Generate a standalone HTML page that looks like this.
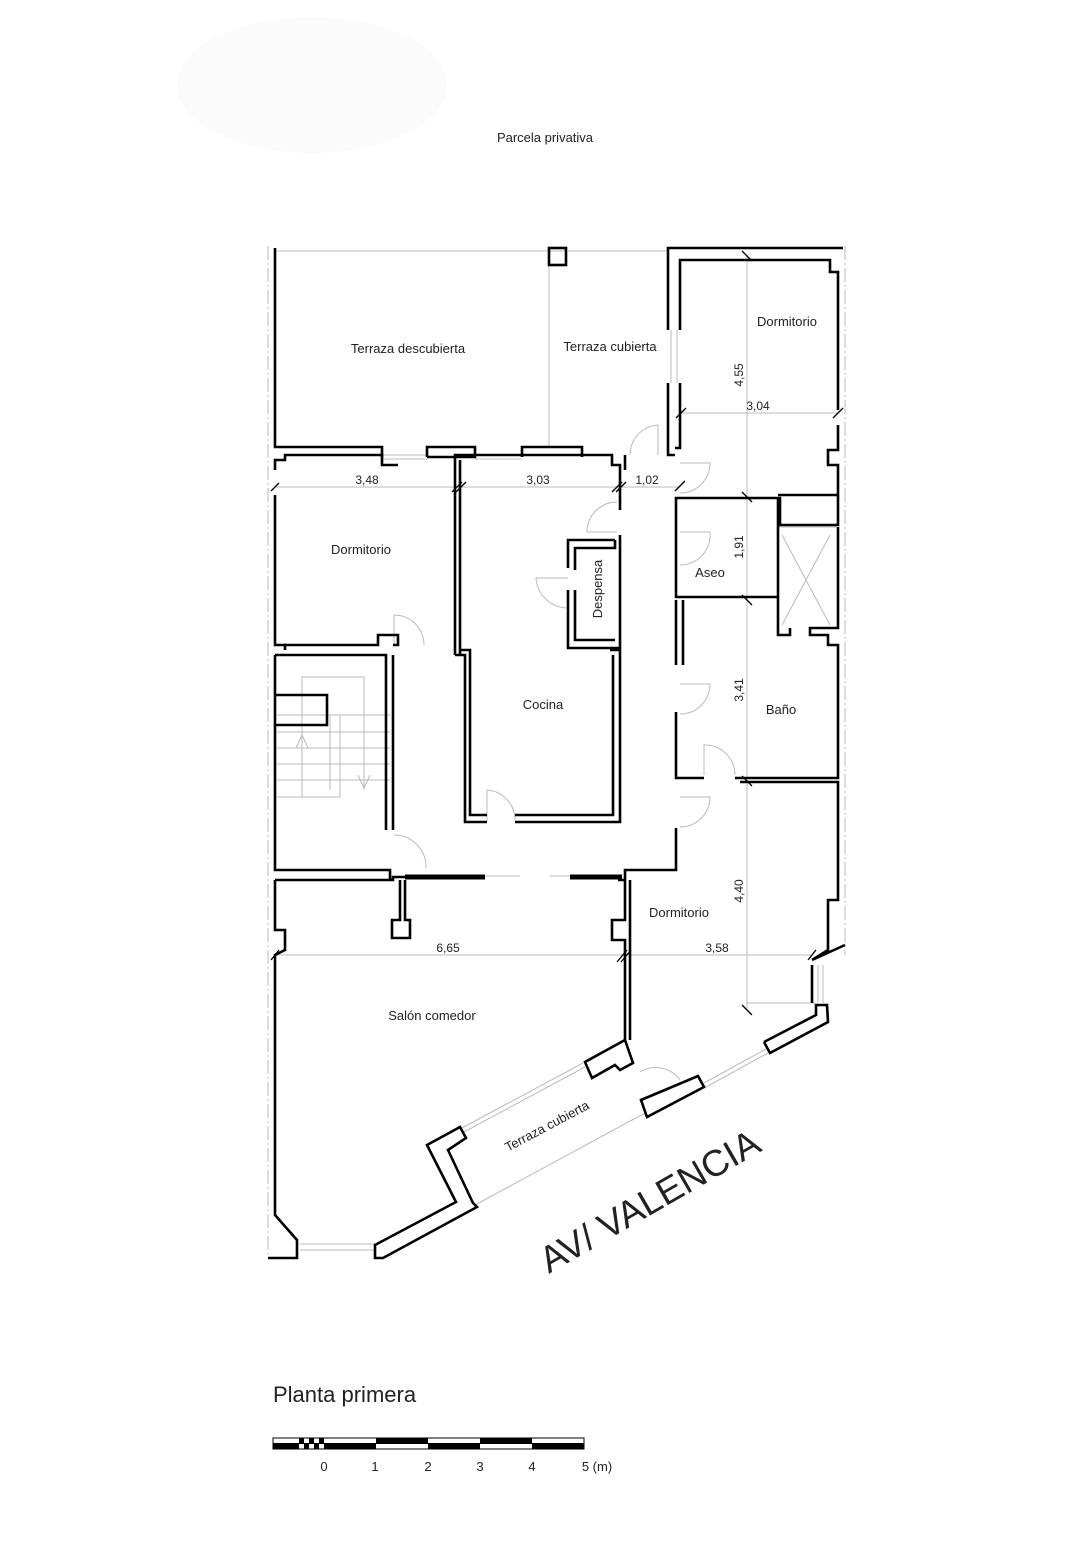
<!DOCTYPE html>
<html><head><meta charset="utf-8"><style>
html,body{margin:0;padding:0;background:#fff;}
svg{display:block;}
text{font-family:"Liberation Sans",Arial,sans-serif;fill:#222;}
</style></head><body>
<svg width="1092" height="1545" viewBox="0 0 1092 1545" xmlns="http://www.w3.org/2000/svg">
<rect width="1092" height="1545" fill="#fff"/>
<ellipse cx="312" cy="85" rx="135" ry="68" fill="#fbfbfb"/>
<text x="545" y="142" font-size="13" text-anchor="middle">Parcela privativa</text>

<g stroke="#bbb" stroke-width="1" fill="none">
<line x1="268" y1="246" x2="268" y2="1258" stroke-dasharray="14,3,2,3"/>
<line x1="845" y1="246" x2="845" y2="955" stroke-dasharray="14,3,2,3"/>
<line x1="275" y1="251" x2="668" y2="251"/>
<line x1="549" y1="265" x2="549" y2="447"/>
<line x1="275" y1="487" x2="680" y2="487"/>
<line x1="680" y1="413" x2="838" y2="413"/>
<line x1="747" y1="255" x2="747" y2="1010"/>
<line x1="275" y1="955" x2="812" y2="955"/>
<line x1="747" y1="1003" x2="815" y2="1003"/>
<line x1="778" y1="527" x2="838" y2="527"/>
<line x1="782" y1="535" x2="830" y2="625"/><line x1="830" y1="535" x2="782" y2="625"/>
<line x1="382" y1="455" x2="427" y2="455"/><line x1="382" y1="459" x2="427" y2="459"/>
<line x1="475" y1="455" x2="522" y2="455"/><line x1="475" y1="459" x2="522" y2="459"/>
<line x1="671" y1="330" x2="671" y2="383"/><line x1="677" y1="330" x2="677" y2="383"/>
<line x1="300" y1="1244" x2="375" y2="1244"/><line x1="300" y1="1250" x2="375" y2="1250"/>
<line x1="818" y1="965" x2="818" y2="1003"/><line x1="823" y1="965" x2="823" y2="1003"/>
<line x1="462" y1="1128" x2="583" y2="1063"/><line x1="464" y1="1132" x2="585" y2="1067"/>
<line x1="704" y1="1083" x2="766" y2="1049"/><line x1="706" y1="1087" x2="768" y2="1053"/>
<line x1="475" y1="1205" x2="645" y2="1113"/>
<line x1="383" y1="1258" x2="477" y2="1207"/>
<polyline points="302,797 302,677 364,677 364,790"/>
<line x1="277" y1="715" x2="390" y2="715"/><line x1="277" y1="732" x2="390" y2="732"/>
<line x1="277" y1="748" x2="390" y2="748"/><line x1="277" y1="764" x2="390" y2="764"/>
<line x1="277" y1="780" x2="390" y2="780"/><line x1="277" y1="797" x2="340" y2="797"/>
<line x1="340" y1="715" x2="340" y2="797"/><line x1="330" y1="715" x2="330" y2="790"/>
<polyline points="296,748 302,735 308,748"/>
<polyline points="358,775 364,788 370,775"/>
<path d="M394,645 L394,615 A30,30 0 0 1 424,645"/>
<path d="M394,835 A32,32 0 0 1 426,868"/>
<path d="M617,532 L587,532 A30,30 0 0 1 617,502"/>
<path d="M568,578 L536,578 A32,32 0 0 0 568,608"/>
<path d="M487,790 L487,822 M487,790 A30,30 0 0 1 515,820"/>
<path d="M658,455 L658,425 A30,30 0 0 0 630,455"/>
<path d="M680,463 L710,463 A30,30 0 0 1 680,493"/>
<path d="M680,532 L710,532 A30,30 0 0 1 680,565"/>
<path d="M680,684 L710,684 A30,30 0 0 1 680,714"/>
<path d="M704,775 L704,745 A30,30 0 0 1 735,775"/>
<path d="M680,797 L710,797 A30,30 0 0 1 680,827"/>
<path d="M640,1072 A30,30 0 0 1 680,1080"/>
<line x1="436" y1="876" x2="520" y2="876"/><line x1="550" y1="876" x2="620" y2="876"/>
</g>

<g stroke="#000" stroke-width="2.6" fill="none" stroke-linejoin="miter">
<polyline points="275,248 275,447 382,447 382,457"/>
<polyline points="427,457 427,447 475,447 475,457 427,457"/>
<polyline points="522,457 522,447 582,447 582,457"/>
<rect x="549" y="248" width="17" height="17"/>
<polyline points="668,330 668,248 843,248"/>
<polyline points="680,330 680,260 830,260 830,272 838,272 838,410"/>
<polyline points="668,383 668,455 675,455"/>
<polyline points="680,383 680,448 675,448"/>
<polyline points="838,425 838,450 828,450 828,465 838,465 838,525 780,525 780,498 676,498 676,590"/>
<line x1="778" y1="495" x2="838" y2="495"/>
<polyline points="275,470 275,460 285,460 285,455 382,455 382,465 398,465"/>
<polyline points="455,655 455,455 612,455 612,465 620,465 620,510"/>
<polyline points="460,655 460,460"/>
<polyline points="625,455 625,470"/>
<polyline points="275,495 275,645 285,645 285,650"/>
<polyline points="285,645 378,645 378,635 398,635 398,645 393,645"/>
<polyline points="620,535 620,648 568,648 568,590"/>
<polyline points="568,568 568,540 615,540"/>
<polyline points="575,570 575,548 615,548 615,540"/>
<polyline points="575,590 575,640 615,640"/>
<polyline points="275,655 275,870 390,870 390,880"/>
<polyline points="275,655 386,655 386,830"/>
<polyline points="393,655 393,830"/>
<polyline points="275,695 327,695 327,725 275,725"/>
<polyline points="455,655 465,655 465,822 487,822"/>
<polyline points="460,650 470,650 470,815 487,815"/>
<polyline points="515,822 620,822 620,650 610,650"/>
<polyline points="515,815 613,815 613,655"/>
<polyline points="676,590 676,597 778,597 778,635 790,635 790,628"/>
<polyline points="778,597 778,498"/>
<polyline points="676,600 676,665"/>
<polyline points="683,600 683,665"/>
<polyline points="676,712 676,778 704,778"/>
<polyline points="735,778 838,778 838,645 828,645 828,635 810,635 810,628 838,628 838,527"/>
<polyline points="676,828 676,870 625,870 625,880"/>
<polyline points="740,782 838,782 838,900 828,900 828,950 812,960 845,945"/>
<polyline points="275,880 275,930 285,930 285,950 275,955 275,1215 297,1240 297,1258 268,1258"/>
<polyline points="275,880 393,880 393,877 436,877"/>
<polyline points="400,880 400,920 392,920 392,938 410,938 410,920 405,920 405,880"/>
<polyline points="618,880 625,880 625,920 612,920 612,940 625,940 625,1040 585,1062 592,1078 615,1065 620,1070 633,1063 625,1040"/>
<polyline points="630,880 630,1040"/>
<polygon points="427,1145 460,1127 466,1138 448,1150 473,1203 477,1207 383,1258 375,1258 375,1245 456,1202"/>
<polygon points="641,1100 698,1076 704,1087 647,1117"/>
<polyline points="764,1042 816,1015 816,1005 827,1005 828,1022 770,1053 764,1042"/>
<polyline points="812,965 812,1003"/>
</g>
<g stroke="#000" stroke-width="5">
<line x1="405" y1="877" x2="485" y2="877"/>
<line x1="570" y1="877" x2="622" y2="877"/>
</g>
<g stroke="#000" stroke-width="1.3">
<line x1="271" y1="491" x2="279" y2="483"/>
<line x1="452" y1="492" x2="462" y2="482"/><line x1="456" y1="492" x2="466" y2="482"/>
<line x1="612" y1="492" x2="622" y2="482"/><line x1="616" y1="492" x2="626" y2="482"/>
<line x1="675" y1="491" x2="685" y2="481"/>
<line x1="676" y1="418" x2="686" y2="408"/><line x1="833" y1="418" x2="843" y2="408"/>
<line x1="742" y1="251" x2="752" y2="261"/>
<line x1="742" y1="492" x2="752" y2="502"/><line x1="742" y1="595" x2="752" y2="605"/>
<line x1="742" y1="776" x2="752" y2="786"/>
<line x1="271" y1="960" x2="279" y2="950"/>
<line x1="617" y1="962" x2="627" y2="950"/><line x1="621" y1="962" x2="631" y2="950"/>
<line x1="808" y1="960" x2="816" y2="950"/>
<line x1="742" y1="1005" x2="752" y2="1015"/>
</g>

<g font-size="13">
<text x="408" y="353" text-anchor="middle">Terraza descubierta</text>
<text x="610" y="351" text-anchor="middle">Terraza cubierta</text>
<text x="787" y="326" text-anchor="middle">Dormitorio</text>
<text x="361" y="554" text-anchor="middle">Dormitorio</text>
<text x="543" y="709" text-anchor="middle">Cocina</text>
<text x="710" y="577" text-anchor="middle">Aseo</text>
<text x="781" y="714" text-anchor="middle">Baño</text>
<text x="679" y="917" text-anchor="middle">Dormitorio</text>
<text x="432" y="1020" text-anchor="middle">Salón comedor</text>
<text transform="translate(602,589) rotate(-90)" text-anchor="middle">Despensa</text>
<text transform="translate(549,1130) rotate(-28)" text-anchor="middle">Terraza cubierta</text>
</g>
<g font-size="12">
<text x="367" y="484" text-anchor="middle">3,48</text>
<text x="538" y="484" text-anchor="middle">3,03</text>
<text x="647" y="484" text-anchor="middle">1,02</text>
<text x="758" y="410" text-anchor="middle">3,04</text>
<text x="448" y="952" text-anchor="middle">6,65</text>
<text x="717" y="952" text-anchor="middle">3,58</text>
<text transform="translate(743,375) rotate(-90)" text-anchor="middle">4,55</text>
<text transform="translate(743,547) rotate(-90)" text-anchor="middle">1,91</text>
<text transform="translate(743,690) rotate(-90)" text-anchor="middle">3,41</text>
<text transform="translate(743,891) rotate(-90)" text-anchor="middle">4,40</text>
</g>
<text transform="translate(656,1212) rotate(-30)" font-size="37" text-anchor="middle">AV/ VALENCIA</text>

<text x="273" y="1402" font-size="22">Planta primera</text>
<g>
<rect x="273" y="1438" width="311" height="11" fill="#fff" stroke="#000" stroke-width="1"/>
<rect x="273" y="1443" width="26" height="6" fill="#000"/>
<rect x="299" y="1438" width="5" height="6" fill="#000"/><rect x="304" y="1443" width="5" height="6" fill="#000"/>
<rect x="309" y="1438" width="5" height="6" fill="#000"/><rect x="314" y="1443" width="5" height="6" fill="#000"/>
<rect x="319" y="1438" width="5" height="6" fill="#000"/>
<rect x="324" y="1443" width="52" height="6" fill="#000"/>
<rect x="376" y="1438" width="52" height="6" fill="#000"/>
<rect x="428" y="1443" width="52" height="6" fill="#000"/>
<rect x="480" y="1438" width="52" height="6" fill="#000"/>
<rect x="532" y="1443" width="52" height="6" fill="#000"/>
</g>
<g font-size="13" text-anchor="middle">
<text x="324" y="1471">0</text><text x="375" y="1471">1</text><text x="428" y="1471">2</text>
<text x="480" y="1471">3</text><text x="532" y="1471">4</text><text x="597" y="1471">5 (m)</text>
</g>
</svg>
</body></html>
